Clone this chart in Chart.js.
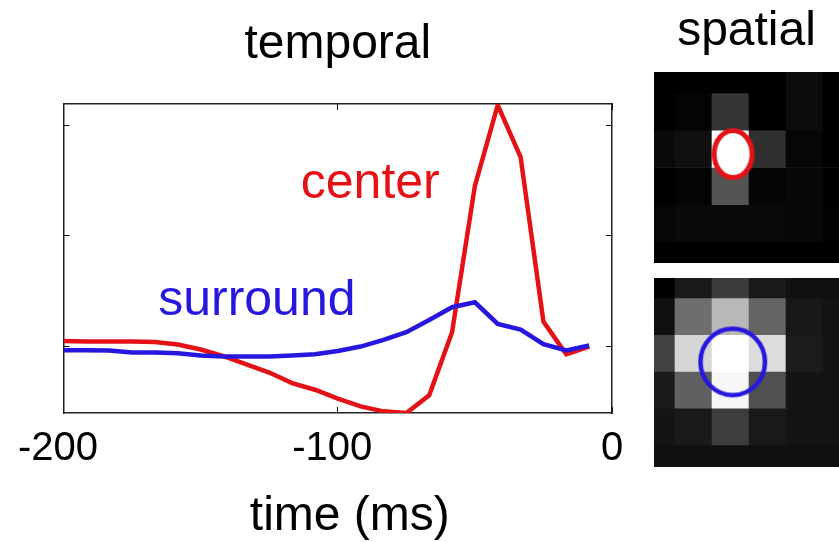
<!DOCTYPE html>
<html>
<head>
<meta charset="utf-8">
<script src="https://cdn.jsdelivr.net/npm/chart.js@4.4.1/dist/chart.umd.min.js"></script>
<style>
  html, body { margin: 0; padding: 0; background: #fff; }
  #wrap { position: relative; width: 839px; height: 542px; overflow: hidden; background: #fff; }
  canvas { position: absolute; }
  #temporal { left: 0; top: 0; }
  #spatialCenter { left: 654px; top: 0; }
  #spatialSurround { left: 654px; top: 278px; }
</style>
</head>
<body>
<div id="wrap">
  <canvas id="temporal" width="645" height="542"></canvas>
  <canvas id="spatialCenter" width="185" height="263"></canvas>
  <canvas id="spatialSurround" width="185" height="189"></canvas>
</div>
<script>
// sample times (ms before spike), one frame every 8.33 ms
const timeMs = [-200, -191.67, -183.33, -175, -166.67, -158.33, -150, -141.67,
  -133.33, -125, -116.67, -108.33, -100, -91.67, -83.33, -75,
  -66.67, -58.33, -50, -41.67, -33.33, -25, -16.67, -8.33];

const centerResp = [0.05, 0.045, 0.045, 0.045, 0.04, 0.018, -0.027, -0.087,
  -0.16, -0.235, -0.33, -0.39, -0.47, -0.54, -0.585, -0.6,
  -0.44, 0.13, 1.45, 2.18, 1.71, 0.225, -0.07, 0.0];

const surroundResp = [-0.033, -0.033, -0.036, -0.054, -0.054, -0.06, -0.08, -0.09,
  -0.09, -0.09, -0.08, -0.07, -0.04, 0.0, 0.06, 0.13,
  0.24, 0.355, 0.4, 0.205, 0.153, 0.022, -0.036, 0.009];

const xTicks = [-200, -100, 0];

// spatial maps, grey level 0-255, rows top to bottom
const centerGray = [
  [0, 0, 0, 0, 12, 0],
  [0, 4, 52, 0, 12, 0],
  [10, 16, 255, 48, 6, 0],
  [0, 4, 84, 4, 8, 0],
  [6, 10, 10, 10, 8, 2],
  [0, 0, 0, 0, 0, 0]
];
const surroundGray = [
  [0, 26, 60, 26, 16, 16],
  [16, 110, 184, 100, 24, 20],
  [66, 214, 255, 220, 28, 20],
  [26, 96, 246, 80, 20, 20],
  [20, 26, 62, 26, 20, 20],
  [16, 16, 16, 16, 16, 16]
];
const centerRing = [{x: 2.07, y: 2.14}];
const surroundRing = [{x: 2.06, y: 2.24}];

const RED = 'rgb(228,18,22)';
const BLUE = 'rgb(38,22,222)';
const FONT = '"Liberation Sans", Arial, sans-serif';

// text next to the curves, placed in data units
const curveLabels = [
  {text: 'center', x: -113.5, y: 1.34, color: RED},
  {text: 'surround', x: -165.5, y: 0.285, color: BLUE}
];

const labelPlugin = {
  id: 'curveLabels',
  afterDatasetsDraw(chart) {
    const {ctx, scales: {x, y}} = chart;
    ctx.save();
    ctx.font = '50px ' + FONT;
    ctx.textAlign = 'left';
    ctx.textBaseline = 'alphabetic';
    curveLabels.forEach(l => {
      ctx.fillStyle = l.color;
      ctx.fillText(l.text, x.getPixelForValue(l.x), y.getPixelForValue(l.y));
    });
    ctx.restore();
  }
};

const tickGrid = {drawOnChartArea: false, drawTicks: true, tickLength: -6, tickColor: '#111', tickWidth: 1};
const boxBorder = {display: true, color: '#222', width: 1.5};

new Chart(document.getElementById('temporal'), {
  type: 'line',
  data: {
    datasets: [
      {label: 'center', data: timeMs.map((t, i) => ({x: t, y: centerResp[i]})),
        borderColor: RED, borderWidth: 4.5, pointRadius: 0, tension: 0, fill: false, order: 1},
      {label: 'surround', data: timeMs.map((t, i) => ({x: t, y: surroundResp[i]})),
        borderColor: BLUE, borderWidth: 4.5, pointRadius: 0, tension: 0, fill: false, order: 0}
    ]
  },
  options: {
    responsive: false,
    animation: false,
    layout: {padding: 0, autoPadding: false},
    plugins: {
      legend: {display: false},
      tooltip: {enabled: false},
      title: {display: true, text: 'temporal', color: '#000', fullSize: false,
        font: {family: FONT, size: 48, weight: 'normal', lineHeight: 1},
        padding: {top: 21, bottom: 0}}
    },
    scales: {
      x: {
        type: 'linear', position: 'bottom', min: -200, max: 0,
        afterBuildTicks: s => { s.ticks = xTicks.map(v => ({value: v})); },
        ticks: {color: '#000', font: {family: FONT, size: 40}, padding: 18,
          callback: v => v < 0 ? v + ' ' : String(v)},
        grid: tickGrid, border: boxBorder,
        title: {display: true, text: '\u2002time (ms)', color: '#000',
          font: {family: FONT, size: 48, lineHeight: 1}, padding: {top: 0, bottom: 1}},
        afterFit: s => { s.height = 129; }
      },
      x2: {
        type: 'linear', position: 'top', min: -200, max: 0,
        afterBuildTicks: s => { s.ticks = xTicks.map(v => ({value: v})); },
        ticks: {display: false},
        grid: tickGrid, border: boxBorder,
        afterFit: s => { s.height = 35; }
      },
      y: {
        type: 'linear', position: 'left', min: -0.6, max: 2.19,
        ticks: {display: false, stepSize: 1, includeBounds: false},
        grid: tickGrid, border: boxBorder,
        afterFit: s => { s.width = 62; }
      },
      y2: {
        type: 'linear', position: 'right', min: -0.6, max: 2.19,
        ticks: {display: false, stepSize: 1, includeBounds: false},
        grid: tickGrid, border: boxBorder,
        afterFit: s => { s.width = 33; }
      }
    }
  },
  plugins: [labelPlugin]
});

// ring drawn once on a small canvas, then used as point style
function ringImage(w, h, color, lw, fill) {
  const c = document.createElement('canvas');
  c.width = w + 2; c.height = h + 2;
  const g = c.getContext('2d');
  g.beginPath();
  g.ellipse(c.width / 2, c.height / 2, (w - lw) / 2, (h - lw) / 2, 0, 0, Math.PI * 2);
  if (fill) { g.fillStyle = fill; g.fill(); }
  g.lineWidth = lw;
  g.strokeStyle = color;
  g.stroke();
  return c;
}

const grey = v => `rgb(${v},${v},${v})`;

function spatialMap(id, cells, ring, ringStyle, yRange, title) {
  const datasets = cells.map((row, r) => ({
    type: 'bar',
    data: row.map((v, c) => ({x: c, y: [r - 0.5, r + 0.5]})),
    backgroundColor: row.map(grey),
    borderWidth: 0,
    grouped: false,
    barPercentage: 1,
    categoryPercentage: 1,
    order: 1
  }));
  datasets.push({
    type: 'scatter',
    data: ring,
    pointStyle: ringStyle,
    pointRadius: 20,
    order: 0
  });
  new Chart(document.getElementById(id), {
    type: 'bar',
    data: {datasets},
    options: {
      responsive: false,
      animation: false,
      layout: {padding: 0, autoPadding: false},
      plugins: {
        legend: {display: false},
        tooltip: {enabled: false},
        title: title ? {display: true, text: title, color: '#000',
          font: {family: FONT, size: 48, weight: 'normal', lineHeight: 1},
          padding: {top: 8, bottom: 16}} : {display: false}
      },
      scales: {
        x: {type: 'linear', display: false, offset: false, min: -0.068, max: 4.932,
          ticks: {stepSize: 1, includeBounds: false}},
        y: {type: 'linear', display: false, reverse: true, min: yRange[0], max: yRange[1],
          ticks: {stepSize: 1, includeBounds: false}}
      }
    }
  });
}

spatialMap('spatialCenter', centerGray, centerRing, ringImage(43, 52, RED, 5, '#fff'), [-0.064, 5.064], 'spatial');
spatialMap('spatialSurround', surroundGray, surroundRing, ringImage(69, 71, BLUE, 4.5, null), [-0.043, 5.1], null);
</script>
</body>
</html>
